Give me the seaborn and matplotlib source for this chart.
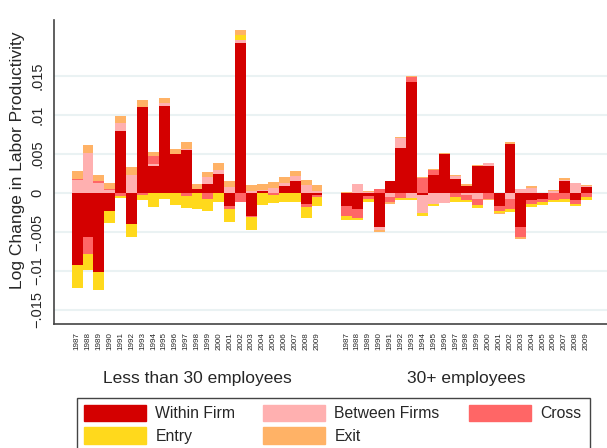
#!/usr/bin/env python3
"""Decomposition of labor productivity growth by firm size, 1987-2009."""

import matplotlib

matplotlib.use("Agg")

import matplotlib.pyplot as plt
import numpy as np
import pandas as pd
import seaborn as sns
from matplotlib.patches import Patch, Rectangle

years = list(range(1987, 2010))
groups = ["Less than 30 employees", "30+ employees"]
components = ["Within Firm", "Between Firms", "Cross", "Entry", "Exit"]
colors = ["#d40000", "#ffb0b0", "#ff6666", "#ffd91c", "#ffb266"]

# Less than 30 employees
small_within = [-0.0092, -0.0056, -0.0101, -0.0023, 0.0079, -0.0040, 0.0110, 0.0035,
                0.0112, 0.0050, 0.0055, 0.00055, 0.0011, 0.0024, -0.0017, 0.0192,
                -0.0030, 0.00025, 0.0, 0.00085, 0.0016, -0.00145, -0.0002]
small_between = [0.0017, 0.0051, 0.0013, 0.00034, 0.00115, 0.0023, 0.0001, 0.0002,
                 0.0004, 0.0, 0.0002, 0.0, 0.001, 0.0005, 0.0008, 0.0004,
                 0.0003, 0.0002, 0.0007, 0.0005, 0.00055, 0.001, 0.0003]
small_cross = [0.0001, -0.0022, 0.0002, 0.0002, -0.0004, 0.0, -0.0003, 0.001,
               0.0, 0.0, -0.0004, 0.0, -0.0007, 0.0, -0.0004, -0.00115,
               -0.0001, 0.0, -0.00025, 0.0, 0.0, -0.0004, -0.0003]
small_entry = [-0.0030, -0.0021, -0.0023, -0.0015, -0.0002, -0.0017, -0.0006, -0.0018,
               -0.0008, -0.0015, -0.0015, -0.0020, -0.0016, -0.00115, -0.0016, 0.00065,
               -0.0017, -0.0015, -0.001, -0.00115, -0.00115, -0.0013, -0.0011]
small_exit = [0.001, 0.0011, 0.00085, 0.0007, 0.00085, 0.0011, 0.00085, 0.0006,
              0.00055, 0.0007, 0.0008, 0.00065, 0.00065, 0.0009, 0.0007, 0.0007,
              0.0007, 0.0007, 0.0007, 0.0007, 0.0007, 0.0007, 0.0007]

# 30+ employees
large_within = [-0.0016, -0.0020, -0.0004, -0.0043, 0.0016, 0.0058, 0.0142, -0.0002,
                0.0023, 0.0050, 0.00175, 0.0009, 0.0035, 0.0035, -0.0017, 0.0063,
                -0.0043, -0.00085, -0.0007, 0.0, 0.0015, -0.0009, 0.0008]
large_between = [0.0, 0.0011, 0.0001, -0.0004, -0.0005, 0.0013, -0.00065, -0.0024,
                 -0.0014, -0.0013, 0.0005, -0.0003, -0.0007, 0.0003, 0.0, -0.0007,
                 0.00055, 0.0007, 0.0, 0.0002, 0.0002, 0.0013, 0.00015]
large_cross = [-0.0014, -0.00115, -0.0004, 0.00055, -0.00065, -0.0006, 0.0007, 0.0019,
               0.00065, 0.0, -0.0005, -0.00055, -0.00085, -0.0007, -0.0006, -0.0014,
               -0.0014, -0.0006, -0.0004, -0.0009, -0.0007, -0.0005, -0.0005]
large_entry = [-0.0004, -0.00035, -0.0003, 0.0, 0.0, -0.00025, -0.0002, -0.0003,
               -0.0002, 0.0, -0.00065, -0.0003, -0.0004, 0.0, -0.00025, -0.0003,
               0.0, -0.0004, -0.0004, -0.0002, -0.0004, -0.0003, -0.00035]
large_exit = [0.00015, 0.0, 0.0001, -0.0003, -0.0002, 0.0001, 0.0001, 0.0001,
              0.00015, 0.0002, 0.0001, 0.0002, 0.0001, -0.0002, -0.0002, 0.0002,
              -0.00015, 0.00015, 0.0, 0.00015, 0.00025, 0.0, 0.00013]

ytick_values = [-0.015, -0.01, -0.005, 0, 0.005, 0.01, 0.015]
ytick_labels = ["\u2212.015", "\u2212.01", "\u2212.005", "0", ".005", ".01", ".015"]

GROUP_GAP = 1.7
W, H = 607, 448


def build_frame() -> pd.DataFrame:
    series = {
        groups[0]: [small_within, small_between, small_cross, small_entry, small_exit],
        groups[1]: [large_within, large_between, large_cross, large_entry, large_exit],
    }
    rows = []
    for g, name in enumerate(groups):
        offset = g * (len(years) + GROUP_GAP)
        for comp, values in zip(components, series[name]):
            for i, (yr, v) in enumerate(zip(years, values)):
                rows.append({"group": name, "year": yr, "pos": offset + i,
                             "component": comp, "value": v})
    return pd.DataFrame(rows)


def main() -> None:
    df = build_frame()
    wide = df.pivot(index="pos", columns="component", values="value")[components]
    pos_cum = wide.clip(lower=0).cumsum(axis=1)
    neg_cum = wide.clip(upper=0).cumsum(axis=1)

    sns.set_style("white")
    plt.rcParams["font.family"] = ["Liberation Sans", "DejaVu Sans"]

    fig, ax = plt.subplots(figsize=(W / 100, H / 100), dpi=100)
    fig.subplots_adjust(left=54 / W, right=1.0, bottom=124 / H, top=428 / H)

    # overdraw cumulative stacks, outermost layer first
    for cum in (pos_cum, neg_cum):
        for comp, color in reversed(list(zip(components, colors))):
            layer = cum[comp].reset_index(name="top")
            sns.barplot(data=layer, x="pos", y="top", native_scale=True, width=1,
                        color=color, saturation=1, errorbar=None, linewidth=0, ax=ax)

    n = len(years)
    positions = sorted(df["pos"].unique())
    ax.set_xticks(positions)
    ax.set_xticklabels([str(y) for y in years] * 2, rotation=90, fontsize=5.8)
    ax.tick_params(axis="x", length=0, pad=6)
    ax.set_xlim(-2.12, 48.6)
    ax.set_xlabel("")

    ax.set_ylim(-0.0168, 0.0222)
    ax.set_yticks(ytick_values)
    ax.set_yticklabels(ytick_labels, rotation=90, va="center", fontsize=10.5)
    ax.tick_params(axis="y", length=5, width=1, color="#333333", pad=2)
    ax.set_ylabel("Log Change in Labor Productivity", fontsize=12.5)
    ax.yaxis.set_label_coords(-0.052, 0.54)
    ax.yaxis.grid(True, color="#eaf2f3", linewidth=1.5)
    ax.set_axisbelow(True)

    sns.despine(ax=ax, top=True, right=True)
    for side in ("left", "bottom"):
        ax.spines[side].set_color("#444444")
        ax.spines[side].set_linewidth(1.2)

    trans = ax.get_xaxis_transform()
    for g, name in enumerate(groups):
        center = g * (n + GROUP_GAP) + (n - 1) / 2
        ax.text(center, -0.178, name, transform=trans, ha="center", va="center",
                fontsize=12.5)

    # legend: outer frame plus three columns
    fig.patches.append(Rectangle((77 / W, 1 - 455 / H), 513 / W, 57 / H,
                                 transform=fig.transFigure, facecolor="white",
                                 edgecolor="#444444", linewidth=1.0, zorder=0))
    columns = [[0, 3], [1, 4], [2]]
    col_x = [84, 263, 469]
    for idx, x0 in zip(columns, col_x):
        handles = [Patch(facecolor=colors[i], edgecolor=colors[i]) for i in idx]
        labels = [components[i] for i in idx]
        fig.legend(handles, labels, ncol=1, loc="upper left",
                   bbox_to_anchor=(x0 / W, 1 - 405 / H), frameon=False,
                   fontsize=11.3, handlelength=3.95, handleheight=1.21,
                   handletextpad=0.6, labelspacing=0.38, borderpad=0,
                   borderaxespad=0)

    fig.savefig("out.png", dpi=100)
    plt.close(fig)


if __name__ == "__main__":
    main()
